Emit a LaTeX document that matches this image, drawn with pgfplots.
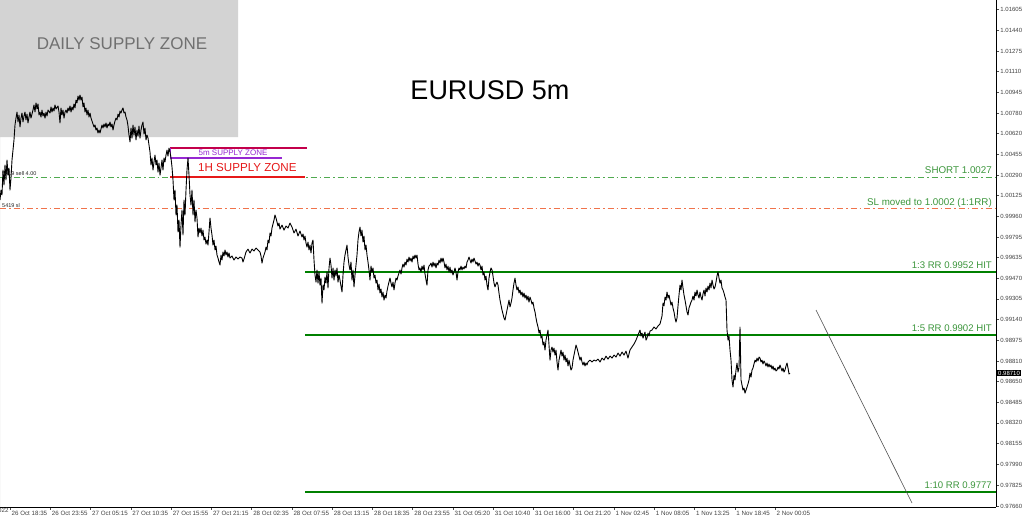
\documentclass[border=0pt]{standalone}
\usepackage{pgfplots}
\pgfplotsset{compat=1.18}
\usepackage{pgfplotstable}
\usepackage{fontspec}
\setmainfont{Liberation Sans}
\definecolor{zonegray}{RGB}{211,211,211}
\definecolor{zonetext}{RGB}{112,112,112}
\definecolor{rrgreen}{RGB}{0,128,0}
\definecolor{rrtext}{RGB}{60,150,60}
\definecolor{shortgreen}{RGB}{80,170,80}
\definecolor{slorange}{RGB}{240,115,75}
\definecolor{crimsonz}{RGB}{195,0,75}
\definecolor{purplez}{RGB}{150,40,210}
\definecolor{redz}{RGB}{230,25,25}
\pgfplotstableread{
x y
0 1.00091
1 1.00170
2 1.00131
3 1.00329
4 1.00210
5 1.00369
6 1.00250
7 1.00409
8 1.00289
9 1.00345
10 1.00170
11 1.00266
12 1.00409
13 1.00488
14 1.00568
15 1.00687
16 1.00742
17 1.00790
18 1.00711
19 1.00766
20 1.00671
21 1.00742
22 1.00782
23 1.00711
24 1.00758
25 1.00790
26 1.00727
27 1.00774
28 1.00703
29 1.00750
30 1.00790
31 1.00742
33 1.00806
34 1.00846
35 1.00790
36 1.00862
37 1.00814
38 1.00854
39 1.00766
40 1.00790
41 1.00750
42 1.00806
43 1.00758
44 1.00782
45 1.00742
46 1.00790
47 1.00758
48 1.00806
50 1.00782
51 1.00830
52 1.00790
53 1.00822
54 1.00798
55 1.00846
56 1.00814
58 1.00838
59 1.00790
60 1.00703
61 1.00822
62 1.00766
63 1.00806
64 1.00742
65 1.00790
66 1.00806
67 1.00782
68 1.00822
69 1.00798
70 1.00838
71 1.00790
72 1.00830
73 1.00806
74 1.00854
75 1.00822
76 1.00885
77 1.00862
78 1.00917
79 1.00885
80 1.00925
81 1.00885
82 1.00909
83 1.00830
84 1.00862
85 1.00790
86 1.00822
87 1.00766
88 1.00806
89 1.00750
90 1.00782
91 1.00742
92 1.00719
93 1.00695
94 1.00671
95 1.00687
96 1.00647
97 1.00663
98 1.00623
99 1.00647
100 1.00623
101 1.00655
102 1.00687
103 1.00663
104 1.00695
105 1.00671
106 1.00703
107 1.00663
108 1.00695
109 1.00679
110 1.00711
111 1.00671
112 1.00695
113 1.00647
114 1.00687
115 1.00719
116 1.00742
117 1.00727
118 1.00774
119 1.00750
120 1.00798
121 1.00782
122 1.00806
123 1.00822
124 1.00782
125 1.00790
126 1.00750
127 1.00727
128 1.00679
129 1.00607
130 1.00552
131 1.00663
132 1.00583
133 1.00687
134 1.00607
135 1.00671
136 1.00568
137 1.00647
138 1.00599
139 1.00679
140 1.00583
141 1.00647
142 1.00687
143 1.00711
144 1.00615
145 1.00663
146 1.00568
147 1.00607
148 1.00583
149 1.00528
150 1.00472
151 1.00369
152 1.00425
153 1.00329
154 1.00393
155 1.00448
156 1.00369
157 1.00409
158 1.00313
159 1.00385
160 1.00289
161 1.00345
162 1.00409
163 1.00329
164 1.00425
165 1.00393
166 1.00448
167 1.00488
168 1.00440
169 1.00504
170 1.00472
171 1.00425
172 1.00353
173 1.00250
174 1.00091
175 1.00170
176 0.99972
177 1.00051
178 0.99837
179 0.99932
180 0.99717
181 0.99892
182 1.00011
183 0.99813
184 1.00091
185 0.99972
186 1.00170
187 1.00329
188 1.00425
189 1.00289
190 1.00131
191 1.00051
192 1.00170
193 0.99972
194 1.00091
195 0.99916
196 1.00011
197 0.99948
198 0.99797
199 0.99868
200 0.99829
201 0.99868
202 0.99805
203 0.99852
204 0.99773
205 0.99797
206 0.99741
207 0.99773
208 0.99733
209 0.99837
210 0.99948
211 0.99868
212 0.99813
213 0.99733
214 0.99773
215 0.99694
216 0.99725
217 0.99654
218 0.99630
219 0.99598
220 0.99574
221 0.99654
222 0.99614
223 0.99678
224 0.99646
225 0.99694
226 0.99654
227 0.99678
228 0.99638
229 0.99670
230 0.99630
232 0.99646
234 0.99614
236 0.99638
238 0.99622
240 0.99638
242 0.99630
243 0.99598
244 0.99622
246 0.99678
248 0.99701
250 0.99670
252 0.99701
254 0.99686
256 0.99709
258 0.99694
260 0.99678
261 0.99646
262 0.99590
263 0.99630
264 0.99654
265 0.99678
266 0.99717
267 0.99694
268 0.99773
269 0.99749
270 0.99829
271 0.99805
272 0.99868
273 0.99900
274 0.99932
275 0.99972
276 0.99948
277 0.99916
278 0.99884
279 0.99908
280 0.99860
282 0.99892
284 0.99852
286 0.99884
288 0.99868
290 0.99908
292 0.99876
294 0.99829
296 0.99860
298 0.99805
300 0.99845
302 0.99797
303 0.99821
304 0.99773
305 0.99805
306 0.99749
307 0.99717
308 0.99757
309 0.99694
310 0.99733
311 0.99670
312 0.99749
313 0.99773
314 0.99614
315 0.99495
316 0.99439
317 0.99535
318 0.99431
319 0.99519
320 0.99415
321 0.99471
322 0.99272
323 0.99415
324 0.99376
325 0.99479
326 0.99431
327 0.99519
328 0.99392
329 0.99551
330 0.99630
331 0.99574
332 0.99471
333 0.99551
334 0.99455
335 0.99535
336 0.99487
337 0.99551
338 0.99439
339 0.99495
340 0.99455
341 0.99407
342 0.99360
343 0.99495
344 0.99598
345 0.99654
346 0.99694
347 0.99733
348 0.99638
349 0.99574
350 0.99535
351 0.99598
352 0.99455
353 0.99535
354 0.99400
355 0.99495
356 0.99574
357 0.99654
358 0.99773
359 0.99837
360 0.99876
361 0.99805
362 0.99852
363 0.99757
364 0.99805
365 0.99694
366 0.99733
367 0.99654
368 0.99598
369 0.99535
370 0.99455
371 0.99566
372 0.99519
373 0.99551
374 0.99471
375 0.99495
376 0.99431
377 0.99455
378 0.99376
379 0.99423
380 0.99352
381 0.99384
382 0.99320
383 0.99360
384 0.99296
385 0.99336
386 0.99312
387 0.99368
388 0.99407
389 0.99439
390 0.99471
391 0.99431
392 0.99400
393 0.99439
394 0.99376
395 0.99431
396 0.99471
397 0.99455
398 0.99487
399 0.99511
400 0.99535
401 0.99503
402 0.99551
403 0.99582
404 0.99558
405 0.99598
406 0.99574
407 0.99622
408 0.99598
409 0.99638
410 0.99606
411 0.99630
412 0.99598
413 0.99646
414 0.99622
415 0.99654
416 0.99630
417 0.99654
418 0.99582
419 0.99535
420 0.99551
421 0.99519
422 0.99566
423 0.99535
424 0.99574
425 0.99503
426 0.99455
427 0.99415
428 0.99535
429 0.99566
430 0.99574
431 0.99590
432 0.99558
433 0.99598
434 0.99566
435 0.99590
436 0.99551
437 0.99590
438 0.99574
439 0.99614
440 0.99590
441 0.99630
442 0.99598
443 0.99630
444 0.99598
445 0.99551
446 0.99582
447 0.99535
448 0.99566
449 0.99519
450 0.99558
451 0.99511
452 0.99535
453 0.99495
454 0.99519
455 0.99551
456 0.99519
457 0.99455
458 0.99519
459 0.99551
460 0.99535
461 0.99566
462 0.99535
463 0.99558
464 0.99543
465 0.99566
466 0.99551
467 0.99598
468 0.99614
469 0.99638
470 0.99614
471 0.99590
472 0.99622
473 0.99598
474 0.99630
475 0.99606
476 0.99582
477 0.99598
478 0.99566
479 0.99590
480 0.99574
481 0.99535
482 0.99566
483 0.99495
484 0.99519
485 0.99455
486 0.99487
487 0.99415
488 0.99376
489 0.99471
490 0.99519
491 0.99551
492 0.99535
493 0.99487
494 0.99431
495 0.99400
496 0.99423
497 0.99439
498 0.99415
499 0.99352
500 0.99296
501 0.99256
502 0.99217
503 0.99185
504 0.99153
505 0.99137
506 0.99177
507 0.99217
508 0.99256
509 0.99296
510 0.99241
511 0.99272
512 0.99312
513 0.99376
514 0.99431
515 0.99471
516 0.99415
517 0.99376
518 0.99400
519 0.99352
520 0.99376
521 0.99336
522 0.99360
523 0.99320
524 0.99352
525 0.99312
526 0.99336
527 0.99296
528 0.99328
529 0.99280
530 0.99320
531 0.99296
532 0.99264
533 0.99280
534 0.99233
535 0.99201
536 0.99153
537 0.99113
538 0.99082
539 0.99034
540 0.99058
541 0.98994
542 0.99010
543 0.98939
544 0.98963
545 0.98899
546 0.98978
547 0.99018
548 0.99058
549 0.98939
550 0.98819
551 0.98899
552 0.98923
553 0.98883
554 0.98915
555 0.98859
556 0.98899
557 0.98804
558 0.98740
559 0.98819
560 0.98859
561 0.98899
562 0.98851
563 0.98883
564 0.98819
565 0.98859
566 0.98804
567 0.98835
568 0.98772
569 0.98819
570 0.98780
571 0.98740
572 0.98756
573 0.98819
574 0.98859
575 0.98899
576 0.98939
577 0.98915
578 0.98883
579 0.98851
580 0.98819
581 0.98843
582 0.98804
583 0.98780
584 0.98804
585 0.98772
586 0.98796
587 0.98780
588 0.98804
590 0.98819
592 0.98804
594 0.98819
596 0.98812
598 0.98827
600 0.98804
602 0.98835
604 0.98819
606 0.98851
608 0.98827
610 0.98851
612 0.98835
614 0.98859
616 0.98843
618 0.98875
620 0.98851
622 0.98883
624 0.98859
626 0.98891
628 0.98835
630 0.98899
632 0.98923
634 0.98947
636 0.98978
638 0.99018
640 0.99058
641 0.99010
642 0.99034
643 0.98994
644 0.99018
645 0.99042
646 0.98978
647 0.98994
648 0.99034
649 0.99010
650 0.99050
652 0.99058
654 0.99082
656 0.99066
658 0.99090
660 0.99106
661 0.99137
662 0.99169
663 0.99272
664 0.99249
665 0.99320
666 0.99296
667 0.99360
668 0.99312
669 0.99336
670 0.99296
671 0.99256
672 0.99280
673 0.99233
674 0.99201
675 0.99153
676 0.99121
677 0.99153
678 0.99249
679 0.99336
680 0.99415
681 0.99376
682 0.99455
683 0.99392
684 0.99336
685 0.99296
686 0.99249
687 0.99201
688 0.99177
689 0.99233
690 0.99256
691 0.99280
692 0.99296
693 0.99328
694 0.99296
695 0.99360
696 0.99328
697 0.99376
698 0.99336
699 0.99312
700 0.99360
701 0.99320
702 0.99296
703 0.99344
704 0.99376
705 0.99328
706 0.99392
707 0.99360
708 0.99407
709 0.99376
710 0.99431
711 0.99392
712 0.99455
713 0.99415
714 0.99384
715 0.99400
716 0.99439
717 0.99487
718 0.99519
719 0.99471
720 0.99431
721 0.99455
722 0.99392
723 0.99376
724 0.99352
725 0.99320
726 0.99296
727 0.99058
728 0.98978
729 0.99010
730 0.98899
731 0.98819
732 0.98661
733 0.98605
734 0.98700
735 0.98661
736 0.98740
737 0.98796
738 0.98724
739 0.98756
740 0.99082
741 0.98661
742 0.98621
743 0.98581
744 0.98597
745 0.98557
746 0.98581
747 0.98605
748 0.98629
749 0.98661
750 0.98716
751 0.98684
752 0.98740
753 0.98756
754 0.98788
755 0.98819
756 0.98804
757 0.98835
758 0.98812
759 0.98843
760 0.98835
761 0.98804
762 0.98819
763 0.98788
764 0.98812
765 0.98796
766 0.98772
767 0.98796
768 0.98764
769 0.98788
770 0.98764
771 0.98780
772 0.98748
773 0.98772
774 0.98740
775 0.98756
776 0.98732
777 0.98740
778 0.98764
779 0.98748
780 0.98780
781 0.98756
782 0.98732
783 0.98756
784 0.98724
785 0.98740
786 0.98772
787 0.98796
788 0.98756
789 0.98708
790 0.98716
}\pricedata
\begin{document}
\begin{tikzpicture}[x=1pt,y=1pt]
\useasboundingbox (0pt,-14pt) rectangle (1024pt,507pt);
\begin{axis}[
  at={(0pt,0pt)}, anchor=south west,
  width=996pt, height=507pt, scale only axis,
  xmin=0, xmax=996, ymin=0.97652, ymax=1.01680,
  clip mode=individual,
  axis x line*=bottom, axis y line*=right,
  axis line style={-, black, line width=0.8pt},
  tick align=outside, major tick length=3pt,
  tick style={black!70, line width=0.5pt},
  xtick={10,50.26,90.53,130.79,171.05,211.32,251.58,291.84,332.11,372.37,412.63,452.89,493.16,533.42,573.68,613.95,654.21,694.47,734.74,775},
  xticklabels={26 Oct 18:35,26 Oct 23:55,27 Oct 05:15,27 Oct 10:35,27 Oct 15:55,27 Oct 21:15,28 Oct 02:35,28 Oct 07:55,28 Oct 13:15,28 Oct 18:35,28 Oct 23:55,31 Oct 05:20,31 Oct 10:40,31 Oct 16:00,31 Oct 21:20,1 Nov 02:45,1 Nov 08:05,1 Nov 13:25,1 Nov 18:45,2 Nov 00:05},
  xticklabel style={anchor=north west, inner xsep=1.5pt, inner ysep=1pt, font=\fontsize{6.2}{6.2}\selectfont, text=black!75},
  ytick={1.01605,1.01440,1.01275,1.01110,1.00945,1.00780,1.00620,1.00455,1.00290,1.00125,0.99960,0.99795,0.99635,0.99470,0.99305,0.99140,0.98975,0.98810,0.98650,0.98485,0.98320,0.98155,0.97990,0.97825,0.97660},
  yticklabels={1.01605,1.01440,1.01275,1.01110,1.00945,1.00780,1.00620,1.00455,1.00290,1.00125,0.99960,0.99795,0.99635,0.99470,0.99305,0.99140,0.98975,0.98810,0.98650,0.98485,0.98320,0.98155,0.97990,0.97825,0.97660},
  yticklabel style={anchor=west, inner xsep=1.2pt, font=\fontsize{6}{6}\selectfont, text=black!75},
  axis background/.style={fill=white},
]
% daily supply zone
\addplot[fill=zonegray, draw=none] coordinates {(0,1.00591) (238,1.00591) (238,1.01680) (0,1.01680)} \closedcycle;
\node[text=zonetext, font=\fontsize{17}{17}\selectfont] at (axis cs:122,1.01330) {DAILY SUPPLY ZONE};
\node[text=black, font=\fontsize{27}{27}\selectfont] at (axis cs:490,1.00965) {EURUSD 5m};
% dash-dot trade lines
\addplot[draw=shortgreen, line width=1pt, dash pattern=on 6pt off 3pt on 1.5pt off 3pt] coordinates {(0,1.0027) (996,1.0027)};
\addplot[draw=slorange, line width=1pt, dash pattern=on 6pt off 3pt on 1.5pt off 3pt] coordinates {(0,1.0002) (996,1.0002)};
% supply zones
\addplot[draw=crimsonz, line width=1.8pt] coordinates {(170,1.00504) (307,1.00504)};
\addplot[draw=purplez, line width=1.6pt] coordinates {(170,1.00425) (282,1.00425)};
\addplot[draw=purplez, line width=1.2pt] coordinates {(170.5,1.00504) (170.5,1.00425)};
\addplot[draw=redz, line width=1.6pt] coordinates {(170,1.00274) (305,1.00274)};
% RR lines
\addplot[draw=rrgreen, line width=1.6pt] coordinates {(305,0.9952) (996,0.9952)};
\addplot[draw=rrgreen, line width=1.6pt] coordinates {(305,0.9902) (996,0.9902)};
\addplot[draw=rrgreen, line width=1.6pt] coordinates {(305,0.9777) (996,0.9777)};
% diagonal projection
\addplot[draw=black!70, line width=0.6pt] coordinates {(816,0.99217) (912,0.97683)};
% price
\addplot[draw=black, line width=0.9pt, line join=round] table[x=x,y=y] {\pricedata};
% labels
\node[text=purplez, font=\fontsize{8}{8}\selectfont] at (axis cs:233,1.00464) {5m SUPPLY ZONE};
\node[text=redz, font=\fontsize{11.6}{11.6}\selectfont, anchor=west, inner sep=0pt] at (axis cs:198,1.00353) {1H SUPPLY ZONE};
\node[text=black!85, font=\fontsize{5.5}{5.5}\selectfont, anchor=west, inner sep=0pt] at (axis cs:2,1.00300) {5419 sell 4.00};
\node[text=black!85, font=\fontsize{5.5}{5.5}\selectfont, anchor=west, inner sep=0pt] at (axis cs:2,1.00050) {5419 sl};
\node[text=rrtext, font=\fontsize{9.8}{9.8}\selectfont, anchor=base east, inner sep=0pt] at (axis cs:992,1.00300) {SHORT 1.0027};
\node[text=rrtext, font=\fontsize{9.8}{9.8}\selectfont, anchor=base east, inner sep=0pt] at (axis cs:992,1.00050) {SL moved to 1.0002 (1:1RR)};
\node[text=rrtext, font=\fontsize{9.6}{9.6}\selectfont, anchor=base east, inner sep=0pt] at (axis cs:992,0.99550) {1:3 RR 0.9952 HIT};
\node[text=rrtext, font=\fontsize{9.6}{9.6}\selectfont, anchor=base east, inner sep=0pt] at (axis cs:992,0.99050) {1:5 RR 0.9902 HIT};
\node[text=rrtext, font=\fontsize{9.6}{9.6}\selectfont, anchor=base east, inner sep=0pt] at (axis cs:992,0.97800) {1:10 RR 0.9777};
% current price tag
\node[fill=black, text=white, anchor=west, inner xsep=1pt, inner ysep=0.8pt, font=\fontsize{6}{6}\selectfont] at (axis cs:997,0.98716) {0.98710};
% cut-off first date label
\node[anchor=north west, inner xsep=1.5pt, inner ysep=1pt, font=\fontsize{6.2}{6.2}\selectfont, text=black!75] at (axis cs:-27,0.97652) {26 Oct 2022};
\end{axis}
\end{tikzpicture}
\end{document}
